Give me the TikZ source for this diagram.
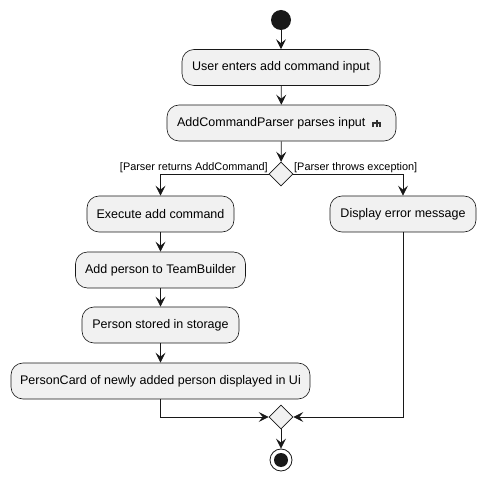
\documentclass[tikz,border=0pt]{standalone}
\usepackage{fontspec}
\setmainfont{Liberation Sans}
\usetikzlibrary{shapes.geometric,arrows.meta}
\definecolor{boxfill}{HTML}{F1F1F1}
\definecolor{boxline}{HTML}{181818}
\definecolor{icon}{HTML}{333333}
\tikzset{
  act/.style={draw=boxline, fill=boxfill, line width=0.6pt, rounded corners=12pt,
    minimum height=36pt, inner sep=0pt, font=\fontsize{12.5}{14}\selectfont},
  dia/.style={draw=boxline, fill=boxfill, line width=0.6pt, diamond, minimum width=24pt,
    minimum height=24pt, inner sep=0pt},
  flow/.style={draw=boxline, line width=0.8pt, -{Stealth[length=10pt,width=10pt,inset=4pt]}},
  guard/.style={font=\fontsize{10.9}{13}\selectfont, inner sep=0pt}
}
\begin{document}
\begin{tikzpicture}[x=1pt,y=-1pt]
\useasboundingbox (0,0) rectangle (485,481);
\node[circle, fill=boxline, minimum size=20pt, inner sep=0pt] (start) at (281,20) {};
\node[act, minimum width=198pt] (b1) at (281,67.5) {User enters add command input};
\node[act, minimum width=229pt] (b2) at (281.5,123) {};
\node[font=\fontsize{12.5}{14}\selectfont, inner sep=0pt] (b2t) at (271.3,123) {AddCommandParser parses input};
\draw[line width=2pt, icon] (376.5,120) -- (376.5,123.5) (372,123.5) -- (381,123.5)
  (373,123.5) -- (373,127.5) (376.5,123.5) -- (376.5,127.5) (380,123.5) -- (380,127.5);
\node[dia] (d1) at (281,174) {};
\node[guard, anchor=east] (g1) at (268,167.5) {[Parser returns AddCommand]};
\node[guard, anchor=west] (g2) at (294,167.5) {[Parser throws exception]};
\node[act, minimum width=147pt] (b3) at (160.5,214) {Execute add command};
\node[act, minimum width=146pt] (b4) at (403,214) {Display error message};
\node[act, minimum width=170pt] (b5) at (160.5,270) {Add person to TeamBuilder};
\node[act, minimum width=157pt] (b6) at (160.5,325) {Person stored in storage};
\node[act, minimum width=299pt] (b7) at (160.5,381) {PersonCard of newly added person displayed in Ui};
\node[dia] (d2) at (281,417) {};
\node[circle, draw=boxline, line width=0.8pt, minimum size=22pt, inner sep=0pt] (stop) at (281,460) {};
\node[circle, fill=boxline, minimum size=14pt, inner sep=0pt] at (stop.center) {};
\draw[flow] (start) -- (b1);
\draw[flow] (b1) -- (b2);
\draw[flow] (b2) -- (d1);
\draw[flow] (d1.west) -| (b3.north);
\draw[flow] (d1.east) -| (b4.north);
\draw[flow] (b3) -- (b5);
\draw[flow] (b5) -- (b6);
\draw[flow] (b6) -- (b7);
\draw[flow] (b7.south) |- (d2.west);
\draw[flow] (b4.south) |- (d2.east);
\draw[flow] (d2) -- (stop);
\end{tikzpicture}
\end{document}
